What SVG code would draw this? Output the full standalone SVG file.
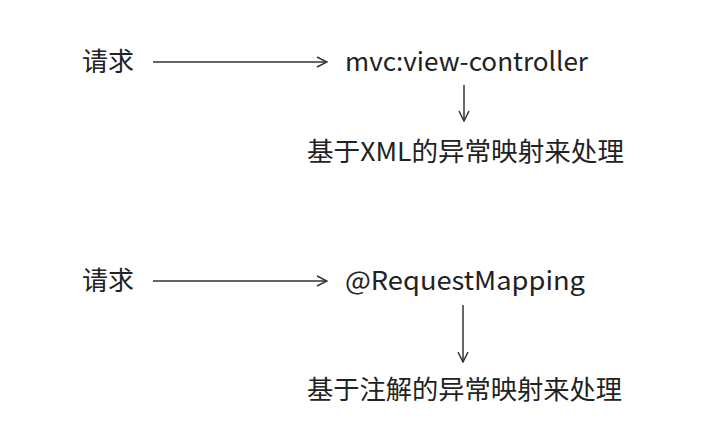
<svg xmlns="http://www.w3.org/2000/svg" width="721" height="423" viewBox="0 0 721 423">
<style>
text{font-family:"Noto Sans CJK SC","Noto Sans",sans-serif;font-size:26px;fill:#222}
.c{stroke:#333;stroke-width:1.5;fill:none}
</style>
<defs><marker id="a" viewBox="0 0 12 12" refX="11" refY="6" markerWidth="12" markerHeight="12" markerUnits="userSpaceOnUse" orient="auto"><path d="M1,1 L11,6 L1,11" fill="none" stroke="#333" stroke-width="1.5"/></marker></defs>
<rect width="721" height="423" fill="#fff"/>
<g id="connectors">
<line class="c" x1="153" y1="62" x2="327" y2="62" marker-end="url(#a)"/>
<line class="c" x1="464" y1="85" x2="464" y2="121" marker-end="url(#a)"/>
<line class="c" x1="153" y1="281" x2="327" y2="281" marker-end="url(#a)"/>
<line class="c" x1="463" y1="305" x2="463" y2="362" marker-end="url(#a)"/>
</g>
<g id="n1"><text x="82" y="71">请求</text></g>
<g id="n2"><text x="345" y="71" textLength="243" lengthAdjust="spacingAndGlyphs">mvc:view-controller</text></g>
<g id="n3"><text x="307" y="161" textLength="317" lengthAdjust="spacingAndGlyphs">基于XML的异常映射来处理</text></g>
<g id="n4"><text x="82" y="290">请求</text></g>
<g id="n5"><text x="345" y="290" textLength="240" lengthAdjust="spacingAndGlyphs">@RequestMapping</text></g>
<g id="n6"><text x="307" y="399" textLength="315" lengthAdjust="spacingAndGlyphs">基于注解的异常映射来处理</text></g>
</svg>
